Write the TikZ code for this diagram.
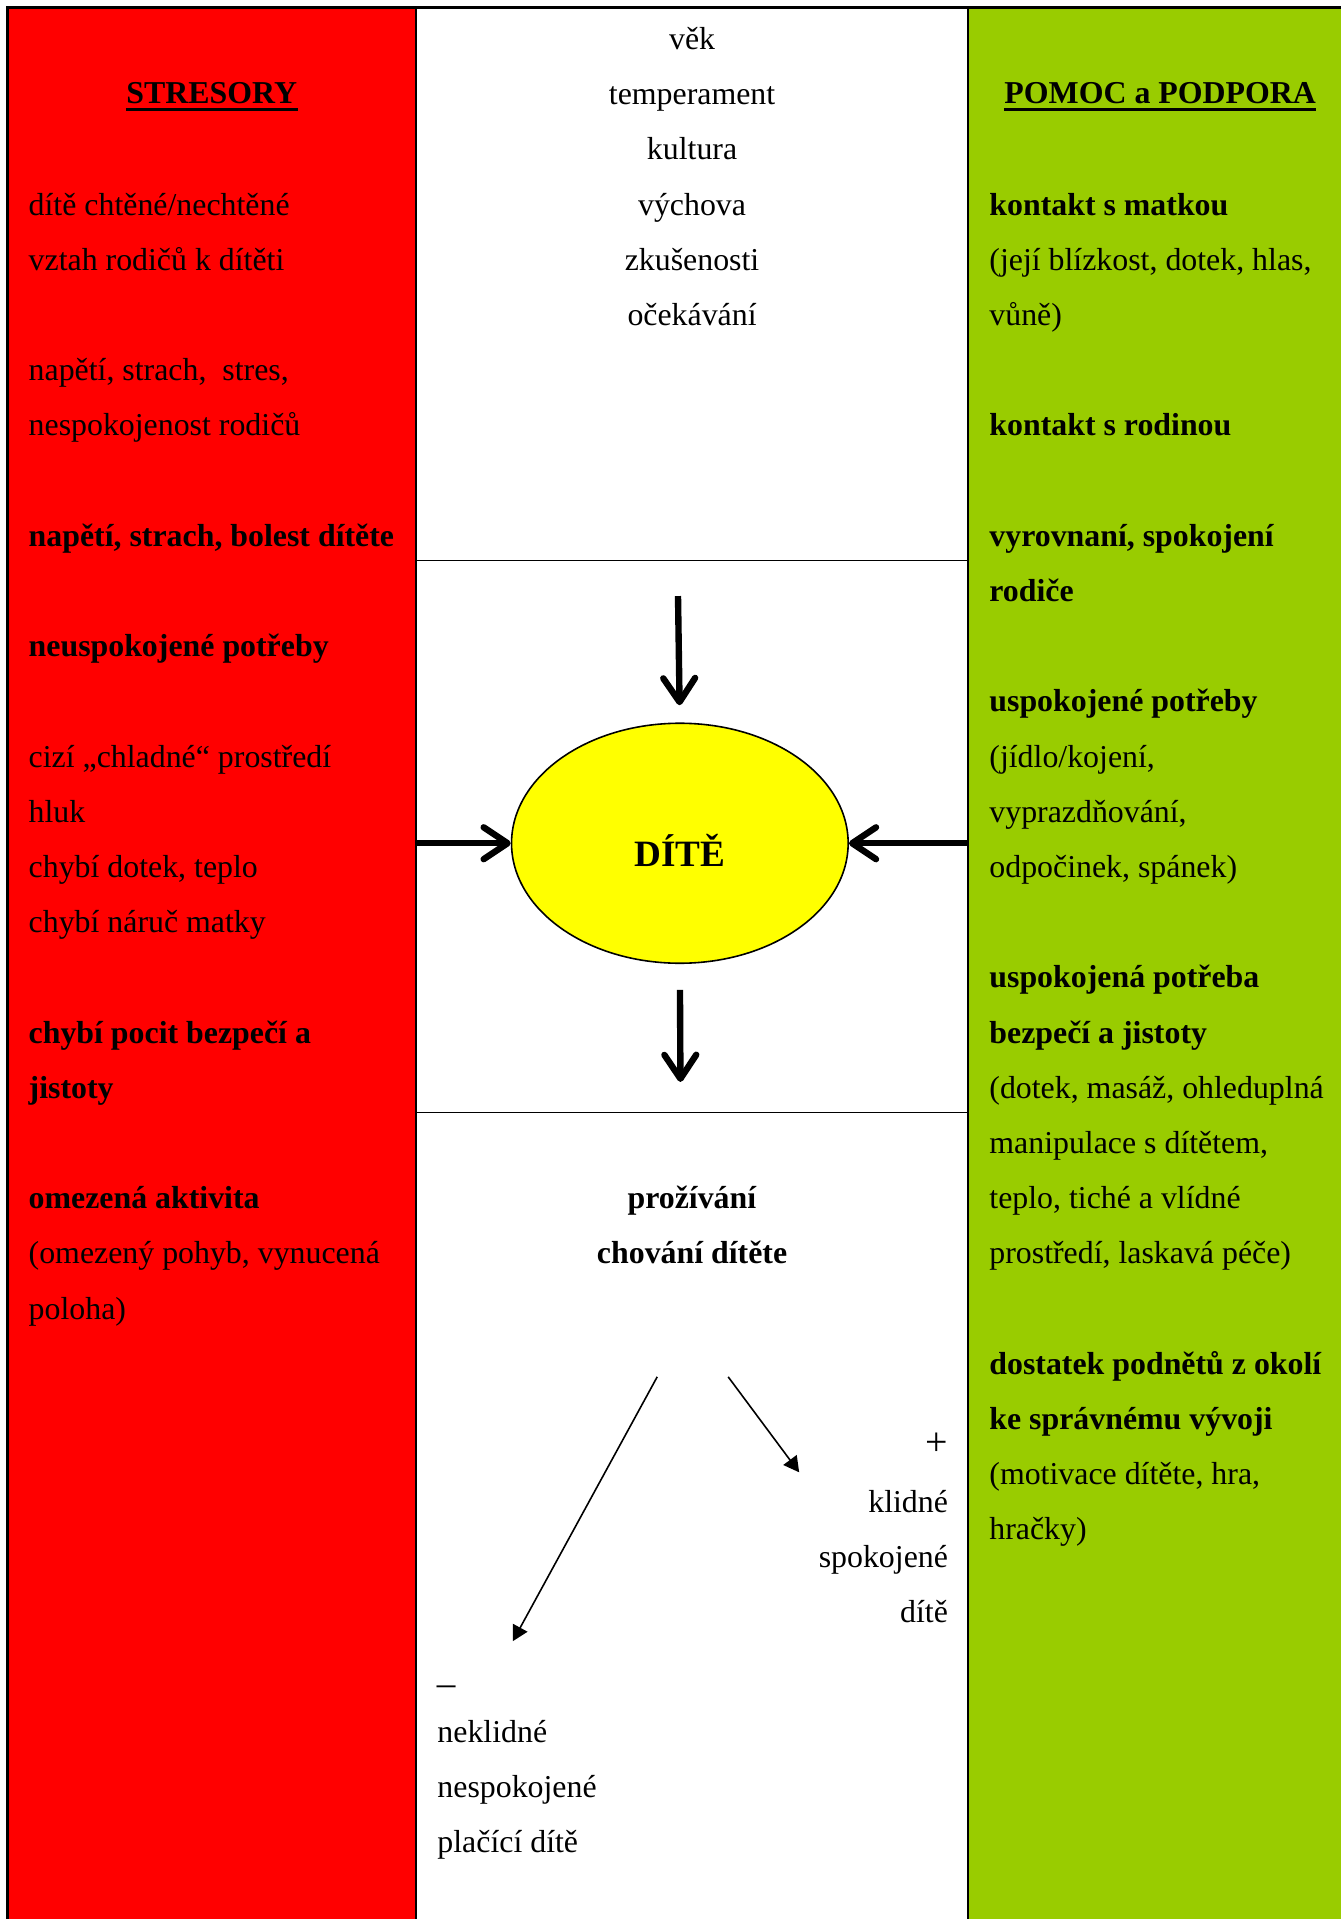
\documentclass[tikz,border=0pt]{standalone}
\usepackage{fontspec}
\setmainfont{Liberation Serif}
\usetikzlibrary{arrows.meta,positioning,shapes.geometric}
\definecolor{stresred}{HTML}{FF0000}
\definecolor{podgreen}{HTML}{99CC00}
\definecolor{ditey}{HTML}{FFFF00}

\begin{document}
\begin{tikzpicture}[
 x=0.461pt, y=-0.461pt,
 every node/.style={inner sep=0pt,font=\fontsize{12}{20.8}\selectfont},
 txt/.style={anchor=base west},
 ctr/.style={anchor=base},
 rgt/.style={anchor=base east},
 cell/.style={line width=0.6pt},
 fat/.style={line width=2.4pt,-{Straight Barb[length=9pt,width=12pt,round]}},
 slim/.style={line width=0.6pt,-{Triangle[length=5.8pt,width=6.2pt]}}
]
\useasboundingbox (0,0) rectangle (1096,1568);
% columns
\fill[stresred] (6,6) rectangle (340,1568);
\fill[podgreen] (791,6) rectangle (1096,1568);
\draw[line width=0.9pt] (6,1568) -- (6,6) -- (1096,6);
\draw[cell] (340,6) -- (340,1568) (791,6) -- (791,1568);
\draw[cell] (340,458) -- (791,458) (340,909) -- (791,909);

% headings
\node[ctr] (stresory) at (173,84.6) {\textbf{STRESORY}};
\node[ctr] (pomoc) at (948,84.6) {\textbf{POMOC a PODPORA}};
\draw[line width=1.1pt] ([yshift=-2.2pt]stresory.base west) -- ([yshift=-2.2pt]stresory.base east);
\draw[line width=1.1pt] ([yshift=-2.2pt]pomoc.base west) -- ([yshift=-2.2pt]pomoc.base east);

% stresory
\foreach \n/\t in {3/{dítě chtěné/nechtěné}, 4/{vztah rodičů k dítěti},
  6/{napětí, strach,\ \ stres,}, 7/{nespokojenost rodičů},
  9/\textbf{napětí, strach, bolest dítěte}, 11/\textbf{neuspokojené potřeby},
  13/{cizí „chladné“ prostředí}, 14/hluk, 15/{chybí dotek, teplo}, 16/{chybí náruč matky},
  18/\textbf{chybí pocit bezpečí a}, 19/\textbf{jistoty},
  21/\textbf{omezená aktivita}, 22/{(omezený pohyb, vynucená}, 23/{poloha)}}
  \node[txt] (s\n) at (23,{40.5+45.1*\n}) {\t};

% pomoc a podpora
\foreach \n/\t in {3/\textbf{kontakt s matkou}, 4/{(její blízkost, dotek, hlas,}, 5/{vůně)},
  7/\textbf{kontakt s rodinou},
  9/\textbf{vyrovnaní, spokojení}, 10/\textbf{rodiče},
  12/\textbf{uspokojené potřeby}, 13/{(jídlo/kojení,}, 14/{vyprazdňování,}, 15/{odpočinek, spánek)},
  17/\textbf{uspokojená potřeba}, 18/\textbf{bezpečí a jistoty}, 19/{(dotek, masáž, ohleduplná},
  20/{manipulace s dítětem,}, 21/{teplo, tiché a vlídné}, 22/{prostředí, laskavá péče)},
  24/\textbf{dostatek podnětů z okolí}, 25/\textbf{ke správnému vývoji},
  26/{(motivace dítěte, hra,}, 27/{hračky)}}
  \node[txt] (p\n) at (808,{40.5+45.1*\n}) {\t};

% faktory
\foreach \t [count=\n from 0] in {věk, temperament, kultura, výchova, zkušenosti, očekávání}
  \node[ctr] (f\n) at (565.5,{40.5+45.1*\n}) {\t};

% dite
\node[ellipse,draw,fill=ditey,line width=0.6pt,minimum width=126.8pt,minimum height=90.4pt,
  text height=17.5pt,text depth=0pt,font=\fontsize{14}{16}\selectfont\bfseries] (dite) at (555.5,689) {DÍTĚ};
\coordinate (intop) at (554,487);
\coordinate (inlft) at (340,689);
\coordinate (inrgt) at (791,689);
\coordinate (outend) at (556,884);
\draw[fat,shorten >=6.5pt] (intop) -- (dite.north);
\draw[fat] (inlft) -- (dite.west);
\draw[fat] (inrgt) -- (dite.east);
\draw[fat,shorten <=9.7pt] (dite.south) -- (outend);

% chovani
\node[ctr] (proz) at (565.5,987.6) {\textbf{prožívání}};
\node[ctr] (chov) at (565.5,1032.7) {\textbf{chování dítěte}};

\node[rgt,font=\fontsize{15}{18}\selectfont] (plus) at (775,1189) {+};
\node[rgt] (klid) at (775,1235.5) {klidné};
\node[rgt] (spok) at (775,1280.5) {spokojené};
\node[rgt] (ddit) at (775,1325.5) {dítě};

\node[txt,font=\fontsize{14}{18}\selectfont] (minus) at (356.5,1385) {–};
\node[txt] (nekl) at (357,1423.5) {neklidné};
\node[txt] (nesp) at (357,1468.5) {nespokojené};
\node[txt] (plac) at (357,1513.5) {plačící dítě};

\coordinate (negst) at (537,1125);
\coordinate (neg) at (419,1341);
\coordinate (posst) at (595,1125);
\coordinate (pos) at (653,1203);
\draw[slim] (negst) -- (neg);
\draw[slim] (posst) -- (pos);
\end{tikzpicture}
\end{document}
